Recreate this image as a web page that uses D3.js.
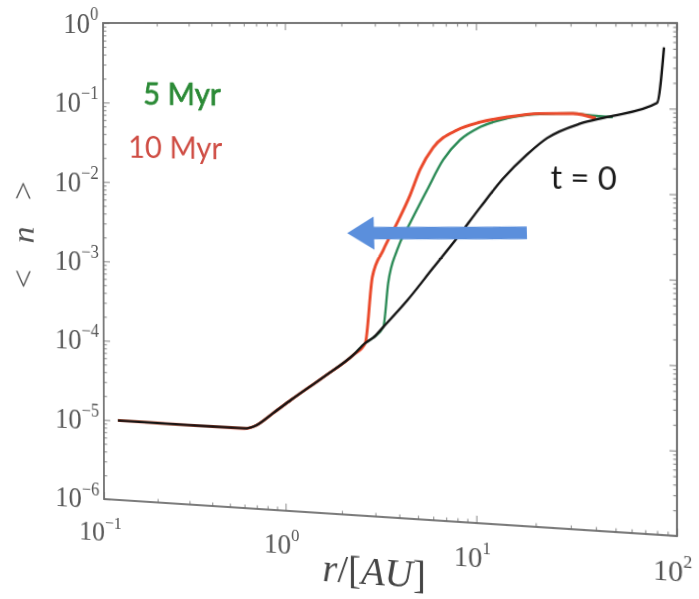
<!DOCTYPE html>
<html>
<head>
<meta charset="utf-8">
<script src="https://cdn.jsdelivr.net/npm/d3@7"></script>
<style>
  body { margin: 0; background: #fff; overflow: hidden; }
  #wrap { position: absolute; left: 0; top: 0; transform-origin: 0 0; }
</style>
</head>
<body>
<div id="wrap"></div>
<script>
// radius in AU and <n> for each snapshot
const rT0 = [0.12, 0.3, 0.6, 0.68, 0.86, 1.07, 1.6, 2.3, 2.66, 2.93, 3.31, 4.41, 6.02, 8.0, 10.5, 13.7, 18.1, 22.9, 33.4, 45.5, 80, 86.5];
const nT0 = [1.0e-5, 0.98e-5, 0.97e-5, 1.05e-5, 1.57e-5, 2.33e-5, 4.67e-5, 9.0e-5, 1.28e-4, 1.5e-4, 2.05e-4, 4.4e-4, 1.12e-3, 2.62e-3, 6.2e-3, 1.38e-2, 2.7e-2, 4.3e-2, 6.45e-2, 7.8e-2, 0.1157, 0.52];

const r5 = [0.12, 0.3, 0.6, 0.68, 0.86, 1.07, 1.6, 2.3, 2.66, 2.93, 3.31, 3.51, 3.91, 4.57, 5.6, 6.78, 8.28, 10.5, 14.4, 21.1, 30.8, 40, 48.6];
const n5 = [1.0e-5, 0.98e-5, 0.97e-5, 1.05e-5, 1.57e-5, 2.33e-5, 4.67e-5, 9.0e-5, 1.28e-4, 1.5e-4, 2.05e-4, 7.0e-4, 1.78e-3, 3.82e-3, 9.7e-3, 2.25e-2, 3.94e-2, 5.68e-2, 7.3e-2, 8.3e-2, 8.5e-2, 8.0e-2, 7.8e-2];

const r10 = [0.12, 0.3, 0.6, 0.68, 0.86, 1.07, 1.6, 2.3, 2.66, 2.9, 3.31, 3.91, 4.57, 5.15, 6.02, 8.0, 10.5, 14.4, 21.1, 30.8, 40];
const n10 = [1.0e-5, 0.98e-5, 0.97e-5, 1.05e-5, 1.57e-5, 2.33e-5, 4.67e-5, 9.0e-5, 1.28e-4, 8.2e-4, 1.76e-3, 3.79e-3, 8.3e-3, 1.7e-2, 3.15e-2, 5.19e-2, 6.5e-2, 7.55e-2, 8.4e-2, 8.5e-2, 7.5e-2];

const xTicks = [0.1, 1, 10, 100];
const xTickExp = ["\u22121", "0", "1", "2"];
const yTicks = [1, 1e-1, 1e-2, 1e-3, 1e-4, 1e-5, 1e-6];
const yTickExp = ["0", "\u22121", "\u22122", "\u22123", "\u22124", "\u22125", "\u22126"];

// annotations: text, anchor point (r, n)
const noteText = ["5 Myr", "10 Myr", "t = 0"];
const noteR = [0.168, 0.138, 23.8];
const noteN = [0.096, 0.0207, 0.0108];
const noteColor = ["#2b8a36", "#cf4d44", "#1a1a1a"];

// migration arrow: tail -> tip
const arrowR = [18.1, 2.14];
const arrowN = [3.16e-3, 2.75e-3];

const W = 574, H = 476;
const ml = 110, mt = 30;

const svg = d3.select("#wrap").append("svg")
    .attr("width", ml + W + 60)
    .attr("height", mt + H + 110);

const g = svg.append("g").attr("transform", `translate(${ml},${mt})`);

const x = d3.scaleLog().domain([0.1, 100]).range([0, W]);
const y = d3.scaleLog().domain([1e-6, 1]).range([H, 0]);

// minor ticks 2..9 per decade
const minors = (lo, hi) => {
    const out = [];
    for (let e = lo; e < hi; e++)
        for (let k = 2; k <= 9; k++) out.push(k * Math.pow(10, e));
    return out;
};
const xMinor = minors(-1, 2);
const yMinor = minors(-6, 0);

function tickAxis(axis, scale, vals, size, tr) {
    g.append("g")
        .attr("transform", tr)
        .call(axis(scale).tickValues(vals).tickSize(size).tickFormat(""))
        .call(s => s.select(".domain").remove())
        .call(s => s.selectAll("line").attr("stroke", "#9a9a9a").attr("stroke-width", 1.2));
}
tickAxis(d3.axisBottom, x, xTicks, -7, `translate(0,${H})`);
tickAxis(d3.axisBottom, x, xMinor, -3.5, `translate(0,${H})`);
tickAxis(d3.axisTop, x, xTicks, -7, "translate(0,0)");
tickAxis(d3.axisTop, x, xMinor, -3.5, "translate(0,0)");
tickAxis(d3.axisLeft, y, yTicks, -7, "translate(0,0)");
tickAxis(d3.axisLeft, y, yMinor, -3.5, "translate(0,0)");
tickAxis(d3.axisRight, y, yTicks, -7, `translate(${W},0)`);
tickAxis(d3.axisRight, y, yMinor, -3.5, `translate(${W},0)`);

g.append("rect")
    .attr("width", W).attr("height", H)
    .attr("fill", "none")
    .attr("stroke", "#6e6e6e")
    .attr("stroke-width", 1.8);

// tick labels, LaTeX style 10^k
const tickFont = "'Liberation Serif', 'DejaVu Serif', serif";
const yl = g.append("g").selectAll("text").data(yTicks).join("text")
    .attr("x", -5)
    .attr("y", d => y(d) + 10)
    .attr("text-anchor", "end")
    .attr("font-family", tickFont)
    .attr("font-size", 29)
    .attr("fill", "#555");
yl.append("tspan").text("10");
yl.append("tspan").attr("dy", -13).attr("font-size", 18).text((d, i) => yTickExp[i]);

const xl = g.append("g").selectAll("text").data(xTicks).join("text")
    .attr("x", d => x(d) - 4)
    .attr("y", H + 42)
    .attr("text-anchor", "middle")
    .attr("font-family", tickFont)
    .attr("font-size", 28)
    .attr("fill", "#555");
xl.append("tspan").text("10");
xl.append("tspan").attr("dy", -13).attr("font-size", 17).text((d, i) => xTickExp[i]);

// axis titles
const xt = g.append("text")
    .attr("x", W / 2 - 6)
    .attr("y", H + 66)
    .attr("text-anchor", "middle")
    .attr("font-family", tickFont)
    .attr("font-size", 39)
    .attr("fill", "#444");
xt.append("tspan").attr("font-style", "italic").text("r");
xt.append("tspan").text("/[");
xt.append("tspan").attr("font-style", "italic").text("AU");
xt.append("tspan").text("]");

g.append("text")
    .attr("transform", `translate(-88,${H * 0.44}) rotate(-90)`)
    .attr("text-anchor", "middle")
    .attr("dy", "0.35em")
    .attr("font-family", tickFont)
    .attr("font-size", 34)
    .attr("fill", "#555")
    .attr("letter-spacing", 9)
    .html("&lt; <tspan font-style='italic'>n</tspan> &gt;");

// curves
const line = d3.line()
    .x(d => x(d[0]))
    .y(d => y(d[1]))
    .curve(d3.curveMonotoneX);

const series = [
    { r: r5, n: n5, color: "#2a8a55", width: 2.3 },
    { r: r10, n: n10, color: "#ea4a2c", width: 2.9 },
    { r: rT0, n: nT0, color: "#151515", width: 2.3 }
];
series.forEach(s => {
    g.append("path")
        .datum(d3.zip(s.r, s.n))
        .attr("fill", "none")
        .attr("stroke", s.color)
        .attr("stroke-width", s.width)
        .attr("stroke-linejoin", "round")
        .attr("d", line);
});

// arrow
const p0 = [x(arrowR[0]), y(arrowN[0])];
const p1 = [x(arrowR[1]), y(arrowN[1])];
const len = Math.hypot(p1[0] - p0[0], p1[1] - p0[1]);
const ux = (p1[0] - p0[0]) / len, uy = (p1[1] - p0[1]) / len;
const headL = 27, headW = 16;
const base = [p1[0] - ux * headL, p1[1] - uy * headL];
g.append("line")
    .attr("x1", p0[0]).attr("y1", p0[1])
    .attr("x2", base[0] + ux * 2).attr("y2", base[1] + uy * 2)
    .attr("stroke", "#5b8fdc")
    .attr("stroke-width", 12);
g.append("path")
    .attr("d", d3.line()([
        p1,
        [base[0] - uy * headW, base[1] + ux * headW],
        [base[0] + uy * headW, base[1] - ux * headW]
    ]) + "Z")
    .attr("fill", "#5b8fdc");

// annotations
g.append("g").selectAll("text").data(noteText).join("text")
    .attr("x", (d, i) => x(noteR[i]))
    .attr("y", (d, i) => y(noteN[i]))
    .attr("font-family", "Lato, 'Open Sans', sans-serif")
    .attr("font-size", 31)
    .attr("fill", (d, i) => noteColor[i])
    .attr("stroke", (d, i) => i === 0 ? noteColor[i] : "none")
    .attr("stroke-width", 0.7)
    .text(d => d);

// the source is a photo of a slide: map the flat plot box onto the
// quadrilateral it occupies in the picture (projective transform)
const quad = [[103, 23], [677, 23], [677, 536], [104, 499]];
function squareToQuad(q) {
    const [x0, y0] = q[0], [x1, y1] = q[1], [x2, y2] = q[2], [x3, y3] = q[3];
    const dx1 = x1 - x2, dx2 = x3 - x2, dx3 = x0 - x1 + x2 - x3;
    const dy1 = y1 - y2, dy2 = y3 - y2, dy3 = y0 - y1 + y2 - y3;
    const den = dx1 * dy2 - dx2 * dy1;
    const a = (dx3 * dy2 - dx2 * dy3) / den;
    const b = (dx1 * dy3 - dx3 * dy1) / den;
    return [[x1 - x0 + a * x1, x3 - x0 + b * x3, x0],
            [y1 - y0 + a * y1, y3 - y0 + b * y3, y0],
            [a, b, 1]];
}
const Q = squareToQuad(quad);
const M = Q.map(row => [row[0] / W, row[1] / H, row[2] - row[0] * ml / W - row[1] * mt / H]);
d3.select("#wrap").style("transform",
    `matrix3d(${M[0][0]},${M[1][0]},0,${M[2][0]},${M[0][1]},${M[1][1]},0,${M[2][1]},0,0,1,0,${M[0][2]},${M[1][2]},0,${M[2][2]})`);
</script>
</body>
</html>
